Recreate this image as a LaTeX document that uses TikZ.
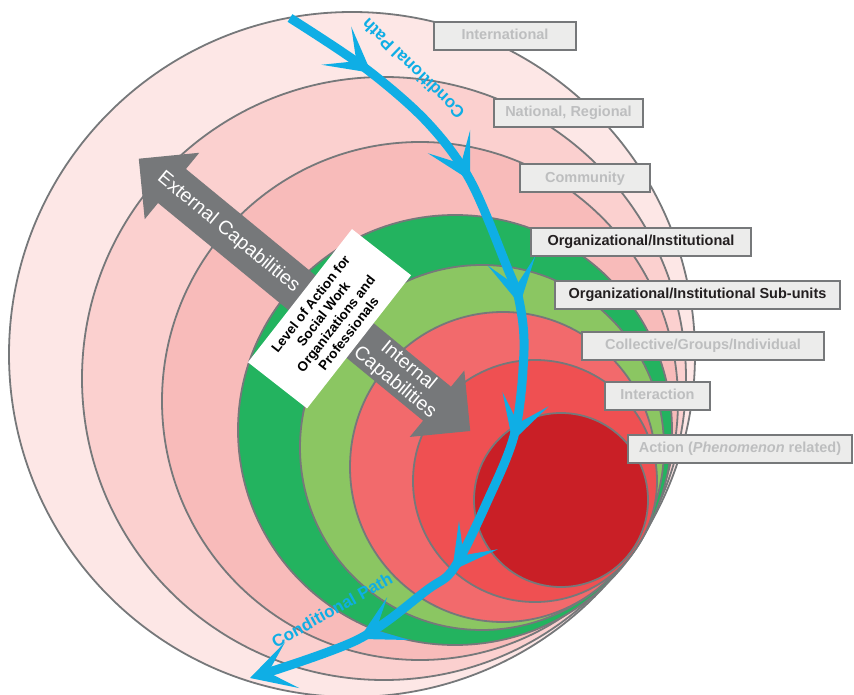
\documentclass[tikz,border=0pt]{standalone}
\usepackage{fontspec}
\setmainfont{Liberation Sans}
\usepackage{tikz}
\usetikzlibrary{positioning, calc, arrows.meta, decorations.markings}

\definecolor{ringA}{HTML}{FDE7E6}
\definecolor{ringB}{HTML}{FBD0CF}
\definecolor{ringC}{HTML}{F8BBBA}
\definecolor{ringD}{HTML}{23B35F}
\definecolor{ringE}{HTML}{8BC662}
\definecolor{ringF}{HTML}{F26A6C}
\definecolor{ringG}{HTML}{EF5052}
\definecolor{ringH}{HTML}{C91F26}
\definecolor{rimgray}{HTML}{76787A}
\definecolor{boxfill}{HTML}{ECECEB}
\definecolor{softtext}{HTML}{BDBEBF}
\definecolor{darktext}{HTML}{231F20}
\definecolor{pathblue}{HTML}{0FAEE5}

\begin{document}
\begin{tikzpicture}[x=1pt, y=-1pt, ring/.style={draw=rimgray, line width=1.8pt}, tierbox/.style={draw=rimgray, line width=2pt, fill=boxfill, minimum height=28pt, inner sep=0pt, text height=10.5pt, text depth=3pt, font=\fontsize{14.5}{16}\selectfont\bfseries}, tierlight/.style={tierbox, text=softtext}, tierdark/.style={tierbox, text=darktext}, barb/.tip={Stealth[length=44pt, width=48pt, inset=25pt]}, capa/.style={text=white, font=\fontsize{19.5}{21.5}\selectfont, align=center, rotate=-39.4}, condlabel/.style={text=pathblue, font=\fontsize{17}{19}\selectfont\bfseries} ]
		\useasboundingbox (0,0) rectangle (854,695);

		%Levels, outer to inner
		\draw[ring, fill=ringA] (352,354.5) ellipse [x radius=343pt, y radius=342.5pt];
		\draw[ring, fill=ringB] (384,378.5) ellipse [x radius=302pt, y radius=301.5pt];
		\draw[ring, fill=ringC] (420,401) ellipse [x radius=258pt, y radius=259pt];
		\draw[ring, fill=ringD] (455,430) ellipse [x radius=217pt, y radius=215pt];
		\draw[ring, fill=ringE] (482,447.5) ellipse [x radius=182pt, y radius=182.5pt];
		\draw[ring, fill=ringF] (503,467) ellipse [x radius=153pt, y radius=155pt];
		\draw[ring, fill=ringG] (535,481) ellipse [x radius=122pt, y radius=121pt];
		\draw[ring, fill=ringH] (561,500) ellipse [x radius=87pt, y radius=87pt];

		%Capabilities arrow
		\begin{scope}[shift={(172,186)}, rotate=-39.4]
			\fill[rimgray] (-43,0) -- (0,-43) -- (0,-22) -- (343,-22) -- (343,-43) -- (386,0) -- (343,43) -- (343,22) -- (0,22) -- (0,43) -- cycle;
			\node[capa]		(external)	at (73,0)	{External Capabilities};
			\node[capa]		(internal)	at (297,0)	{Internal\\Capabilities};
		\end{scope}

		\node[fill=white, rotate=52, minimum width=169pt, minimum height=75pt, inner sep=0pt, align=center, font=\fontsize{13.5}{16}\selectfont\bfseries]	(action)	at (329.5,318.75)	{Level of Action for\\Social Work\\Organizations and\\Professionals};

		%Level labels
		\node[tierlight, minimum width=142pt]	(intl)		at (505,36)		{International};
		\node[tierlight, minimum width=149pt]	(natl)		at (568.5,113)	{National, Regional};
		\node[tierlight, minimum width=130pt]	(comm)		at (585,178.5)	{Community};
		\node[tierdark, minimum width=220pt]	(org)		at (641,242)	{Organizational/Institutional};
		\node[tierdark, minimum width=285pt]	(orgsub)	at (697.5,294.5)	{Organizational/Institutional Sub-units};
		\node[tierlight, minimum width=242pt]	(coll)		at (703,346)	{Collective/Groups/Individual};
		\node[tierlight, minimum width=105pt]	(inter)		at (657.5,396)	{Interaction};
		\node[tierlight, minimum width=224pt]	(phen)		at (740,448.5)	{Action (\textit{Phenomenon} related)};

		%Conditional path
		\draw[pathblue, line width=9pt, -barb, postaction={decorate}, decoration={markings, mark=at position 0.11 with {\arrow{barb}}, mark=at position 0.275 with {\arrow{barb}}, mark=at position 0.425 with {\arrow{barb}}, mark=at position 0.58 with {\arrow{barb}}, mark=at position 0.74 with {\arrow{barb}}, mark=at position 0.87 with {\arrow{barb}}}]
			plot[smooth, tension=0.55] coordinates {(290,18) (365,68) (427,122) (470,180) (507,267) (519,300) (524,350) (515,432) (487,502) (454,568) (427,590) (357,640) (250,678)};
		\node[condlabel, rotate=136]	(condtop)	at (413,69)		{Conditional Path};
		\node[condlabel, rotate=29]		(condlow)	at (332,610)	{Conditional Path};
	\end{tikzpicture}
\end{document}
